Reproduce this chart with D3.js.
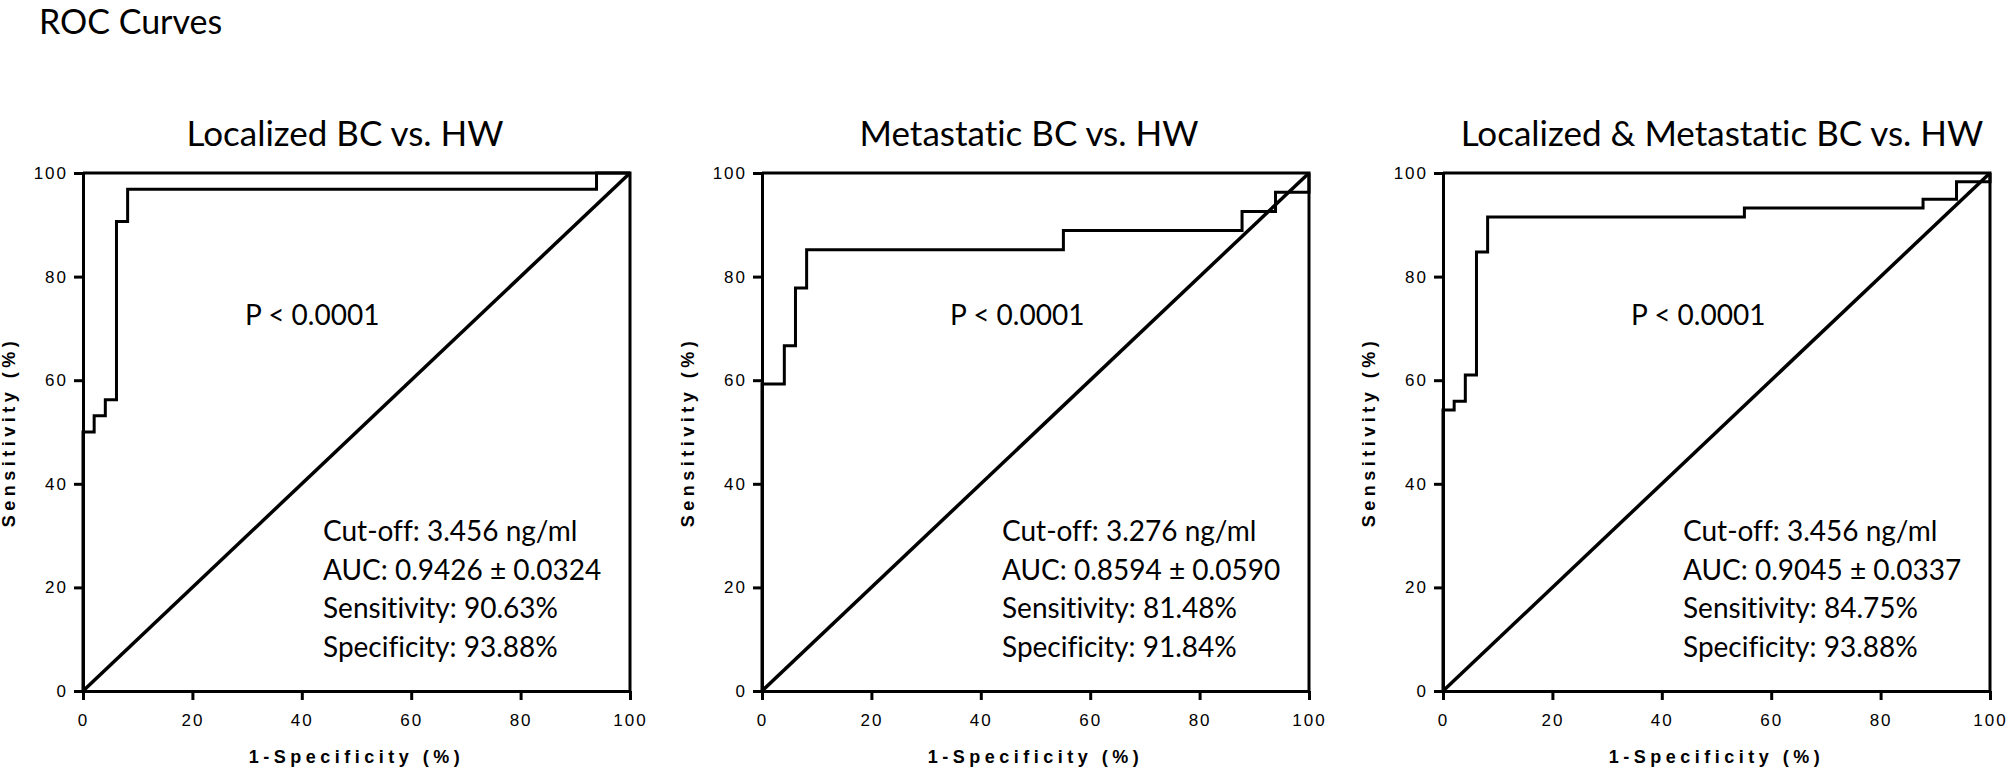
<!DOCTYPE html>
<html>
<head>
<meta charset="utf-8">
<script src="https://cdn.jsdelivr.net/npm/d3@7"></script>
<style>
  body { margin: 0; background: #fff; }
  text { font-variant-ligatures: none; }
  .tick text { font-family: "Liberation Sans", Arial, sans-serif; font-size: 17px; letter-spacing: 2px; fill: #000; }
  .axis path, .axis line { stroke: #000; stroke-width: 3px; }
</style>
</head>
<body>
<div id="chart-area"></div>
<script>
// ROC curves, three panels

var titles = ["Localized BC vs. HW", "Metastatic BC vs. HW", "Localized & Metastatic BC vs. HW"];
var cutoffs = ["3.456 ng/ml", "3.276 ng/ml", "3.456 ng/ml"];
var aucs = ["0.9426 \u00b1 0.0324", "0.8594 \u00b1 0.0590", "0.9045 \u00b1 0.0337"];
var sensitivities = ["90.63%", "81.48%", "84.75%"];
var specificities = ["93.88%", "91.84%", "93.88%"];
var pValue = "P < 0.0001";
var ticks = [0, 20, 40, 60, 80, 100];

// step vertices (1-specificity %, sensitivity %)
var localizedFpr = [0, 0, 2.04, 4.08, 6.12, 8.16, 93.88, 100];
var localizedTpr = [0, 50, 53.13, 56.25, 90.63, 96.88, 100, 100];
var metastaticFpr = [0, 0, 4.08, 6.12, 8.16, 55.10, 87.76, 93.88, 100];
var metastaticTpr = [0, 59.26, 66.67, 77.78, 85.19, 88.89, 92.59, 96.30, 100];
var combinedFpr = [0, 0, 2.04, 4.08, 6.12, 8.16, 55.10, 87.76, 93.88, 100];
var combinedTpr = [0, 54.24, 55.93, 61.02, 84.75, 91.53, 93.22, 94.92, 98.31, 100];

var curves = [
    [localizedFpr, localizedTpr],
    [metastaticFpr, metastaticTpr],
    [combinedFpr, combinedTpr]
];

var W = 2008, H = 768;
var panelLeft = [83, 762, 1443];
var titleX = [345, 1029, 1722];
var pw = 547, plotTop = 173, plotBottom = 691;
var textFont = "Lato, 'Open Sans', sans-serif";

var svg = d3.select("#chart-area")
    .append("svg")
        .attr("width", W)
        .attr("height", H);

svg.append("text")
    .attr("x", 39)
    .attr("y", 34)
    .attr("font-family", textFont)
    .attr("font-size", "34px")
    .text("ROC Curves");

titles.forEach(function(title, i) {
    var g = svg.append("g")
        .attr("transform", "translate(" + panelLeft[i] + ",0)");

    var x = d3.scaleLinear().domain([0, 100]).range([0, pw]);
    var y = d3.scaleLinear().domain([0, 100]).range([plotBottom, plotTop]);

    // frame (top and right)
    g.append("path")
        .attr("d", "M0," + plotTop + "H" + pw + "V" + plotBottom)
        .attr("fill", "none")
        .attr("stroke", "#000")
        .attr("stroke-width", 3);

    // diagonal reference
    g.append("line")
        .attr("x1", x(0)).attr("y1", y(0))
        .attr("x2", x(100)).attr("y2", y(100))
        .attr("stroke", "#000")
        .attr("stroke-width", 3.5);

    // ROC curve
    var pts = curves[i][0].map(function(fx, k) { return [fx, curves[i][1][k]]; });
    var line = d3.line()
        .x(function(d) { return x(d[0]); })
        .y(function(d) { return y(d[1]); })
        .curve(d3.curveStepAfter);
    g.append("path")
        .datum(pts)
        .attr("d", line)
        .attr("fill", "none")
        .attr("stroke", "#000")
        .attr("stroke-width", 3);

    // axes
    g.append("g")
        .attr("class", "axis")
        .call(d3.axisLeft(y).tickValues(ticks).tickSize(9).tickSizeOuter(0).tickPadding(6));
    g.append("g")
        .attr("class", "axis")
        .attr("transform", "translate(0," + plotBottom + ")")
        .call(d3.axisBottom(x).tickValues(ticks).tickSize(9).tickSizeOuter(0).tickPadding(14));

    // axis labels
    g.append("text")
        .attr("x", pw / 2)
        .attr("y", 763)
        .attr("text-anchor", "middle")
        .attr("font-family", "'Liberation Sans', Arial, sans-serif")
        .attr("font-weight", "bold")
        .attr("font-size", "18px")
        .attr("letter-spacing", "4.5px")
        .text("1-Specificity (%)");
    g.append("text")
        .attr("transform", "translate(-73," + ((plotTop + plotBottom) / 2) + ") rotate(-90)")
        .attr("text-anchor", "middle")
        .attr("dominant-baseline", "middle")
        .attr("font-family", "'Liberation Sans', Arial, sans-serif")
        .attr("font-weight", "bold")
        .attr("font-size", "18px")
        .attr("letter-spacing", "4.5px")
        .text("Sensitivity (%)");

    // panel title
    svg.append("text")
        .attr("x", titleX[i])
        .attr("y", 146)
        .attr("text-anchor", "middle")
        .attr("font-family", textFont)
        .attr("font-size", "35px")
        .text(title);

    // p value
    g.append("text")
        .attr("x", i === 0 ? 162 : 188)
        .attr("y", 325)
        .attr("font-family", textFont)
        .attr("font-size", "28px")
        .text(pValue);

    // stats block
    var lines = ["Cut-off: " + cutoffs[i], "AUC: " + aucs[i],
                 "Sensitivity: " + sensitivities[i], "Specificity: " + specificities[i]];
    lines.forEach(function(t, k) {
        g.append("text")
            .attr("x", 240)
            .attr("y", 541 + k * 38.7)
            .attr("font-family", textFont)
            .attr("font-size", "28px")
            .text(t);
    });
});
</script>
</body>
</html>
